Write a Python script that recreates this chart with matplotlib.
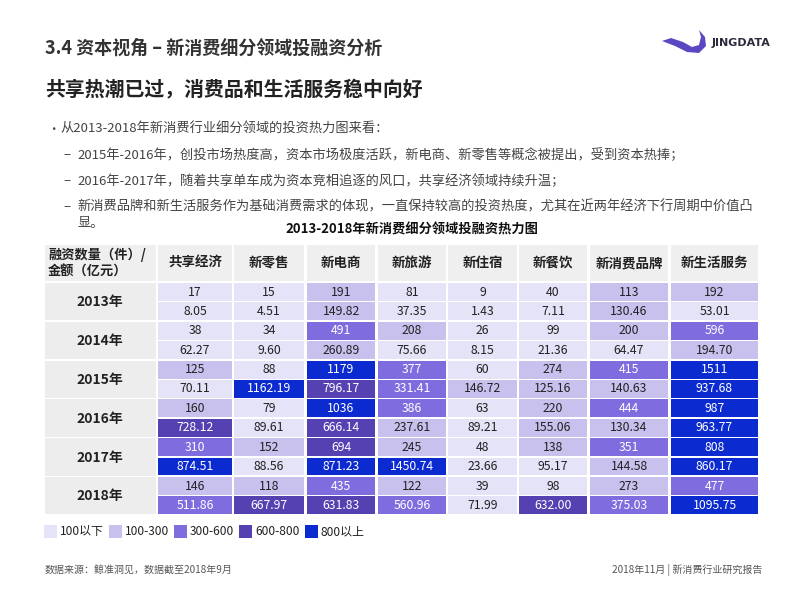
import numpy as np
import matplotlib
matplotlib.use('Agg')
import matplotlib.pyplot as plt
from matplotlib.patches import Rectangle, Polygon
from matplotlib.colors import ListedColormap, BoundaryNorm

plt.rcParams['font.family'] = ['Noto Sans CJK SC', 'DejaVu Sans']

# data
sectors = ['共享经济', '新零售', '新电商', '新旅游', '新住宿', '新餐饮', '新消费品牌', '新生活服务']
years = ['2013年', '2014年', '2015年', '2016年', '2017年', '2018年']
deal_counts = [
    [17, 15, 191, 81, 9, 40, 113, 192],
    [38, 34, 491, 208, 26, 99, 200, 596],
    [125, 88, 1179, 377, 60, 274, 415, 1511],
    [160, 79, 1036, 386, 63, 220, 444, 987],
    [310, 152, 694, 245, 48, 138, 351, 808],
    [146, 118, 435, 122, 39, 98, 273, 477],
]
deal_amounts = [
    [8.05, 4.51, 149.82, 37.35, 1.43, 7.11, 130.46, 53.01],
    [62.27, 9.60, 260.89, 75.66, 8.15, 21.36, 64.47, 194.70],
    [70.11, 1162.19, 796.17, 331.41, 146.72, 125.16, 140.63, 937.68],
    [728.12, 89.61, 666.14, 237.61, 89.21, 155.06, 130.34, 963.77],
    [874.51, 88.56, 871.23, 1450.74, 23.66, 95.17, 144.58, 860.17],
    [511.86, 667.97, 631.83, 560.96, 71.99, 632.00, 375.03, 1095.75],
]
bounds = [0, 100, 300, 600, 800, 100000]
legend_labels = ['100以下', '100-300', '300-600', '600-800', '800以上']
bin_colors = ['#e5e3f7', '#c8c1ee', '#7f6de0', '#5541b1', '#0b2bd0']

cmap = ListedColormap(bin_colors)
norm = BoundaryNorm(bounds, cmap.N)

fig = plt.figure(figsize=(8, 6), dpi=100)
ax = fig.add_axes([0, 0, 1, 1])
ax.set_xlim(0, 800)
ax.set_ylim(600, 0)
ax.axis('off')

# page header
ax.text(45, 48, '3.4 资本视角 – 新消费细分领域投融资分析', fontsize=13, fontweight='bold',
        color='#333333', va='center')
ax.text(45, 89, '共享热潮已过，消费品和生活服务稳中向好', fontsize=14.3, fontweight='bold',
        color='#222222', va='center')

# logo
ax.add_patch(Polygon([[662, 41], [671, 38], [683, 42], [692, 47], [699, 45], [701, 37],
                      [699, 30], [705, 37], [706, 46], [699, 53], [687, 52], [675, 46]],
                     closed=True, color='#5a48c2', lw=0))
ax.text(712, 43, 'JINGDATA', fontsize=8, fontweight='bold', color='#2b2b3b', va='center',
        family='DejaVu Sans')

# bullets
body = '#444444'
fs_body = 9.5
ax.text(47, 129, '•', fontsize=9, color=body, va='center')
ax.text(60, 129, '从2013-2018年新消费行业细分领域的投资热力图来看：', fontsize=fs_body, color=body, va='center')
lines = ['2015年-2016年，创投市场热度高，资本市场极度活跃，新电商、新零售等概念被提出，受到资本热捧；',
         '2016年-2017年，随着共享单车成为资本竞相追逐的风口，共享经济领域持续升温；',
         '新消费品牌和新生活服务作为基础消费需求的体现，一直保持较高的投资热度，尤其在近两年经济下行周期中价值凸']
for i, s in enumerate(lines):
    y = 155 + i * 26
    ax.text(63, y, '–', fontsize=fs_body, color=body, va='center')
    ax.text(77, y, s, fontsize=fs_body, color=body, va='center')
ax.text(77, 223, '显。', fontsize=fs_body, color=body, va='center')

ax.text(412, 230, '2013-2018年新消费细分领域投融资热力图', fontsize=9.5, fontweight='bold',
        color='#111111', ha='center', va='center')

# table layout
col_x = [158, 234, 307, 378, 448, 519, 590, 671]
col_w = [74, 70, 68, 68, 69, 68, 78, 87]
head_top, head_h = 245, 36
row_top, group_h = 283, 38.8
sub_h = group_h / 2

ax.add_patch(Rectangle((45, head_top), 111, head_h, color='#efefef', lw=0))
ax.text(48, head_top + 10, '融资数量（件）/', fontsize=9.5, fontweight='bold', color='#222222', va='center')
ax.text(48, head_top + 27, '金额（亿元）', fontsize=9.5, fontweight='bold', color='#222222', va='center')
for j, name in enumerate(sectors):
    ax.add_patch(Rectangle((col_x[j], head_top), col_w[j], head_h, color='#efefef', lw=0))
    ax.text(col_x[j] + col_w[j] / 2, head_top + head_h / 2, name, fontsize=9.7, fontweight='bold',
            color='#222222', ha='center', va='center')

counts = np.array(deal_counts, dtype=float)
amounts = np.array(deal_amounts, dtype=float)
for i, yr in enumerate(years):
    gy = row_top + i * group_h
    ax.add_patch(Rectangle((45, gy), 111, group_h - 1.5, color='#ededed', lw=0))
    ax.text(100, gy + group_h / 2, yr, fontsize=10, fontweight='bold', color='#222222',
            ha='center', va='center')
    for j in range(len(sectors)):
        for k, (vals, fmt) in enumerate([(counts, '{:.0f}'), (amounts, '{:.2f}')]):
            v = vals[i, j]
            y0 = gy + k * sub_h
            ax.add_patch(Rectangle((col_x[j], y0), col_w[j], sub_h - 1.5,
                                   color=cmap(norm(v)), lw=0))
            tc = 'white' if v >= 300 else '#222222'
            ax.text(col_x[j] + col_w[j] / 2, y0 + sub_h / 2 - 0.7, fmt.format(v),
                    fontsize=8.8, color=tc, ha='center', va='center')

# legend, laid out from measured text widths
fig.canvas.draw()
renderer = fig.canvas.get_renderer()
inv = ax.transData.inverted()
x = 44
for lab, c in zip(legend_labels, bin_colors):
    ax.add_patch(Rectangle((x, 525), 13, 13, color=c, lw=0))
    t = ax.text(x + 16, 531.5, lab, fontsize=8.6, color='#222222', va='center')
    bb = t.get_window_extent(renderer)
    x_end = inv.transform((bb.x1, bb.y0))[0]
    x = x_end + 5

# footer
ax.text(45, 570, '数据来源：鲸准洞见，数据截至2018年9月', fontsize=7.2, color='#555555', va='center')
ax.text(762, 570, '2018年11月 | 新消费行业研究报告', fontsize=7.2, color='#555555', va='center', ha='right')

fig.savefig('out.png', dpi=100, facecolor='white')
